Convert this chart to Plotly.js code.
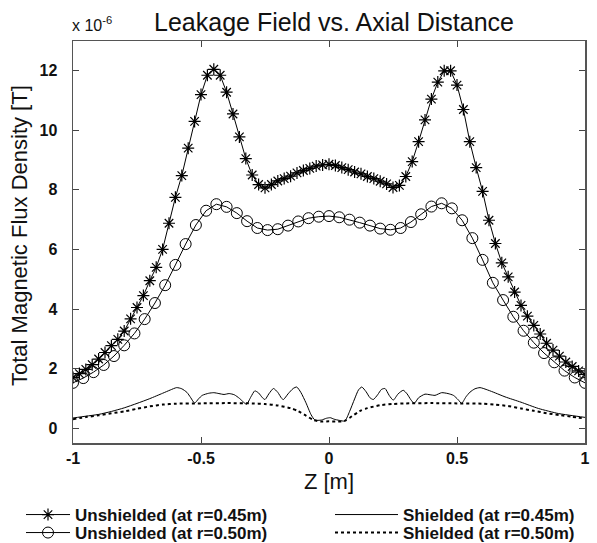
<!DOCTYPE html>
<html>
<head>
<meta charset="utf-8">
<script src="https://cdn.plot.ly/plotly-3.0.1.min.js"></script>
<style>
html,body{margin:0;padding:0;background:#fff;}
#chart{width:597px;height:543px;}
</style>
</head>
<body>
<div id="chart"></div>
<script>
// Unshielded, r = 0.45 m (x 1e-6 T)
const zU45 = [-1.000,-0.975,-0.950,-0.925,-0.900,-0.875,-0.850,-0.825,-0.800,-0.775,-0.750,-0.725,-0.700,-0.675,-0.650,-0.625,-0.600,-0.575,-0.550,-0.525,-0.500,-0.475,-0.450,-0.425,-0.400,-0.375,-0.350,-0.325,-0.300,-0.275,-0.250,-0.225,-0.200,-0.175,-0.150,-0.125,-0.100,-0.075,-0.050,-0.025,0.000,0.025,0.050,0.075,0.100,0.125,0.150,0.175,0.200,0.225,0.250,0.275,0.300,0.325,0.350,0.375,0.400,0.425,0.450,0.475,0.500,0.525,0.550,0.575,0.600,0.625,0.650,0.675,0.700,0.725,0.750,0.775,0.800,0.825,0.850,0.875,0.900,0.925,0.950,0.975,1.000];
const bU45 = [1.70,1.83,1.97,2.13,2.32,2.54,2.77,2.98,3.26,3.67,4.05,4.45,4.95,5.40,6.00,6.88,7.75,8.48,9.40,10.30,11.20,11.85,12.05,11.85,11.28,10.55,9.78,9.05,8.50,8.18,8.07,8.18,8.30,8.38,8.46,8.57,8.65,8.72,8.80,8.84,8.86,8.82,8.75,8.68,8.60,8.54,8.45,8.38,8.29,8.20,8.08,8.15,8.45,8.95,9.62,10.35,11.05,11.62,12.00,12.00,11.52,10.70,9.62,8.75,7.95,6.98,6.20,5.55,5.08,4.57,4.12,3.76,3.45,3.16,2.85,2.62,2.42,2.22,2.07,1.92,1.80];

// Unshielded, r = 0.50 m
const zU50 = [-1.00,-0.96,-0.92,-0.88,-0.84,-0.80,-0.76,-0.72,-0.68,-0.64,-0.60,-0.56,-0.52,-0.48,-0.44,-0.40,-0.36,-0.32,-0.28,-0.24,-0.20,-0.16,-0.12,-0.08,-0.04,0.00,0.04,0.08,0.12,0.16,0.20,0.24,0.28,0.32,0.36,0.40,0.44,0.48,0.52,0.56,0.60,0.64,0.68,0.72,0.76,0.80,0.84,0.88,0.92,0.96,1.00];
const bU50 = [1.52,1.68,1.88,2.12,2.42,2.78,3.18,3.66,4.20,4.80,5.48,6.18,6.82,7.30,7.52,7.43,7.22,6.95,6.72,6.65,6.68,6.80,6.94,7.05,7.10,7.12,7.08,7.00,6.90,6.80,6.70,6.66,6.72,6.92,7.18,7.44,7.55,7.38,6.98,6.38,5.65,4.88,4.30,3.74,3.27,2.87,2.52,2.21,1.93,1.70,1.52];

// Shielded, r = 0.45 m
const zS45 = [-1.00,-0.95,-0.90,-0.85,-0.80,-0.75,-0.70,-0.65,-0.62,-0.595,-0.575,-0.555,-0.54,-0.525,-0.51,-0.495,-0.47,-0.45,-0.43,-0.41,-0.39,-0.37,-0.35,-0.335,-0.322,-0.305,-0.29,-0.275,-0.26,-0.25,-0.235,-0.217,-0.20,-0.185,-0.178,-0.16,-0.14,-0.126,-0.11,-0.09,-0.07,-0.055,-0.03,-0.01,0.005,0.02,0.04,0.062,0.08,0.10,0.115,0.128,0.145,0.16,0.173,0.19,0.205,0.219,0.235,0.251,0.27,0.29,0.305,0.32,0.333,0.35,0.375,0.395,0.414,0.44,0.465,0.486,0.505,0.518,0.535,0.551,0.57,0.59,0.62,0.65,0.6875,0.75,0.818,0.896,0.95,1.00];
const bS45 = [0.34,0.40,0.46,0.56,0.68,0.83,0.99,1.17,1.28,1.36,1.32,1.20,1.02,0.84,0.98,1.10,1.17,1.19,1.16,1.13,1.16,1.12,1.00,0.88,0.80,1.05,1.25,1.18,1.02,0.96,1.15,1.33,1.20,1.00,0.96,1.15,1.33,1.38,1.20,0.85,0.45,0.27,0.27,0.33,0.35,0.30,0.26,0.24,0.55,0.98,1.28,1.38,1.22,1.02,0.96,1.12,1.30,1.33,1.10,0.94,1.15,1.27,1.15,0.95,0.83,1.02,1.14,1.12,1.10,1.19,1.16,1.10,0.95,0.83,1.05,1.21,1.32,1.36,1.28,1.18,1.05,0.87,0.66,0.49,0.42,0.36];

// Shielded, r = 0.50 m
const zS50 = [-1.00,-0.95,-0.90,-0.85,-0.80,-0.75,-0.70,-0.65,-0.60,-0.50,-0.40,-0.30,-0.25,-0.20,-0.15,-0.12,-0.09,-0.06,-0.03,0.00,0.03,0.06,0.09,0.12,0.15,0.20,0.25,0.30,0.40,0.50,0.60,0.65,0.70,0.75,0.80,0.85,0.90,0.95,1.00];
const bS50 = [0.30,0.37,0.43,0.50,0.56,0.65,0.73,0.79,0.82,0.83,0.84,0.83,0.81,0.76,0.67,0.57,0.42,0.27,0.22,0.23,0.22,0.24,0.40,0.57,0.67,0.77,0.81,0.83,0.84,0.83,0.82,0.79,0.74,0.66,0.58,0.50,0.44,0.38,0.32];

const seriesNames = ["Unshielded (at r=0.45m)","Unshielded (at r=0.50m)","Shielded (at r=0.45m)","Shielded (at r=0.50m)"];
const xTicks = [-1,-0.5,0,0.5,1];
const xTickText = ["-1","-0.5","0","0.5","1"];
const yTicks = [0,2,4,6,8,10,12];

const traces = [
  {x:zU45,y:bU45,name:seriesNames[0],type:'scatter',mode:'lines+markers',
   line:{color:'#000',width:1},marker:{symbol:'asterisk-open',size:10,color:'#000',line:{color:'#000',width:1.2}},legend:'legend2'},
  {x:zU50,y:bU50,name:seriesNames[1],type:'scatter',mode:'lines+markers',
   line:{color:'#000',width:1},marker:{symbol:'circle-open',size:11,color:'#000',line:{color:'#000',width:1}},legend:'legend3'},
  {x:zS45,y:bS45,name:seriesNames[2],type:'scatter',mode:'lines',line:{color:'#000',width:1,shape:'spline',smoothing:0.6},legend:'legend4'},
  {x:zS50,y:bS50,name:seriesNames[3],type:'scatter',mode:'lines',line:{color:'#000',width:2,dash:'dot',shape:'spline',smoothing:0.6},legend:'legend5'}
];

const FAM = 'Liberation Sans, Arial, sans-serif';
const tickFont = {family:FAM,size:16,color:'#111',weight:'bold'};
const legFont = {family:FAM,size:17,color:'#111',weight:'bold'};
function leg(xpx, ycenter, iw){
  return {x:xpx/597,xref:'container',y:1-ycenter/543,yref:'container',xanchor:'left',yanchor:'middle',
    orientation:'v',font:legFont,bgcolor:'rgba(0,0,0,0)',itemwidth:iw,borderwidth:0};
}

const layout = {
  width:597,height:543,
  paper_bgcolor:'#fff',plot_bgcolor:'#fff',
  showlegend:true,
  margin:{l:73,r:12,t:41,b:100,autoexpand:false},
  title:{text:'Leakage Field vs. Axial Distance',x:334/597,xanchor:'center',xref:'container',y:1-22/543,yref:'container',yanchor:'middle',
    font:{family:FAM,size:25,color:'#111'}},
  xaxis:{range:[-1,1],tickvals:xTicks,ticktext:xTickText,ticks:'inside',ticklen:6,tickcolor:'#444',
    showline:true,linecolor:'#555',linewidth:1.5,mirror:'ticks',showgrid:false,zeroline:false,
    tickfont:tickFont,
    title:{text:'Z [m]',font:{family:FAM,size:22,color:'#111'},standoff:8}},
  yaxis:{range:[-0.5,13],tickvals:yTicks,ticks:'inside',ticklen:6,tickcolor:'#444',
    showline:true,linecolor:'#555',linewidth:1.5,mirror:'ticks',showgrid:false,zeroline:false,
    tickfont:tickFont,ticklabelstandoff:11},
  legend2:leg(21,515,44),
  legend3:leg(21,533,44),
  legend4:leg(330,515,63),
  legend5:leg(330,533,63),
  annotations:[
    {text:'x 10<sup>-6</sup>',xref:'paper',yref:'paper',x:0,y:1,xanchor:'left',yanchor:'bottom',yshift:5,xshift:-3,
     showarrow:false,font:{family:FAM,size:16,color:'#111'}},
    {text:'Total Magnetic Flux Density [T]',xref:'paper',yref:'paper',x:(20-73)/512,y:(443-236)/402,
     xanchor:'center',yanchor:'middle',textangle:-90,showarrow:false,font:{family:FAM,size:22,color:'#111'}}
  ]
};

Plotly.newPlot('chart',traces,layout,{displayModeBar:false,staticPlot:true});
</script>
</body>
</html>
